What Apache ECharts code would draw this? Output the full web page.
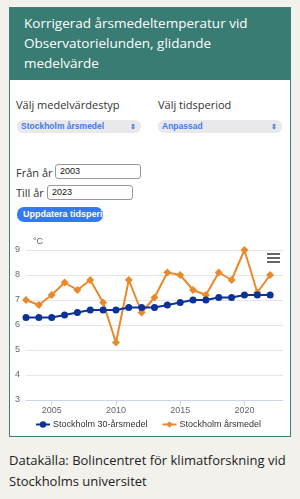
<!DOCTYPE html>
<html>
<head>
<meta charset="utf-8">
<script src="https://cdn.jsdelivr.net/npm/echarts@6/dist/echarts.min.js"></script>
<style>
  html, body { margin: 0; padding: 0; }
  body { width: 300px; height: 499px; background: #f3f1ec; position: relative; overflow: hidden; font-family: "Open Sans", sans-serif; }
  .card { position: absolute; left: 9px; top: 7px; width: 280px; height: 428px; background: #fff; border: 1px solid #3d7f76; }
  .head { position: absolute; left: 0; top: 0; width: 280px; height: 72px; background: #397c74; color: #fff; font-size: 13.5px; line-height: 20px; padding: 5px 40px 0 14px; box-sizing: border-box; }
  .lbl { position: absolute; font-size: 11px; color: #333; white-space: nowrap; }
  .sel { position: absolute; height: 13px; background: #e9e9ec; border-radius: 6px; font-family: "Liberation Sans", sans-serif; font-size: 8.5px; font-weight: bold; color: #3f7be8; line-height: 13px; padding-left: 4px; box-sizing: border-box; }
  .sel span { position: absolute; right: 5px; top: 0; font-size: 7px; }
  .inp { position: absolute; height: 15px; border: 1px solid #999; border-radius: 3px; box-sizing: border-box; font-family: "Liberation Sans", sans-serif; font-size: 9px; line-height: 13px; padding-left: 4px; color: #111; }
  .btn { position: absolute; left: 7px; top: 199px; width: 86px; height: 15px; background: #3478f6; border-radius: 7px; color: #fff; font-family: "Liberation Sans", sans-serif; font-weight: bold; font-size: 9px; line-height: 15px; padding-left: 6px; box-sizing: border-box; overflow: hidden; white-space: nowrap; }
  #chart { position: absolute; left: 1px; top: 219px; width: 280px; height: 209px; }
  .foot { position: absolute; left: 9px; top: 450px; font-size: 13px; line-height: 21px; color: #222; }
</style>
</head>
<body>
<div class="card">
  <div class="head">Korrigerad årsmedeltemperatur vid Observatorielunden, glidande medelvärde</div>
  <div class="lbl" style="left:6px;top:89px">Välj medelvärdestyp</div>
  <div class="lbl" style="left:148px;top:89px">Välj tidsperiod</div>
  <div class="sel" style="left:7px;top:112px;width:124px">Stockholm årsmedel<span>&#8661;</span></div>
  <div class="sel" style="left:148px;top:112px;width:124px">Anpassad<span>&#8661;</span></div>
  <div class="lbl" style="left:6px;top:157px">Från år</div>
  <div class="inp" style="left:45px;top:156px;width:86px">2003</div>
  <div class="lbl" style="left:6px;top:177px">Till år</div>
  <div class="inp" style="left:37px;top:177px;width:86px">2023</div>
  <div class="btn">Uppdatera tidsperiod</div>
  <div id="chart"></div>
</div>
<div class="foot">Datakälla: Bolincentret för klimatforskning vid<br>Stockholms universitet</div>

<script>
const years = [2003, 2004, 2005, 2006, 2007, 2008, 2009, 2010, 2011, 2012,
  2013, 2014, 2015, 2016, 2017, 2018, 2019, 2020, 2021, 2022]
const mean30 = [6.3, 6.3, 6.3, 6.4, 6.5, 6.6, 6.6, 6.6, 6.7, 6.7,
  6.7, 6.8, 6.9, 7.0, 7.0, 7.1, 7.1, 7.2, 7.2, 7.2]
const annual = [7.0, 6.8, 7.2, 7.7, 7.4, 7.8, 6.9, 5.3, 7.8, 6.5,
  7.1, 8.1, 8.0, 7.4, 7.2, 8.1, 7.8, 9.0, 7.3, 8.0]
const xTicks = [2005, 2010, 2015, 2020]
const seriesNames = ['Stockholm 30-årsmedel', 'Stockholm årsmedel']

const chart = echarts.init(document.getElementById('chart'))
const font = '"Liberation Sans", Arial, sans-serif'

chart.setOption({
  animation: false,
  textStyle: { fontFamily: font },
  grid: { left: 15, right: 8, top: 23, bottom: 36 },
  legend: {
    data: seriesNames,
    left: 19,
    top: 188,
    itemWidth: 14,
    itemHeight: 8,
    itemGap: 14,
    textStyle: { fontSize: 9, color: '#333', fontFamily: font, padding: [0, 0, 0, -2] }
  },
  xAxis: {
    type: 'value',
    min: 2003,
    max: 2023,
    axisLine: { lineStyle: { color: '#ccd6eb' } },
    axisTick: { show: true, length: 5, customValues: xTicks, lineStyle: { color: '#ccd6eb' } },
    axisLabel: { customValues: xTicks, formatter: v => String(v), color: '#666', fontSize: 9, margin: 6 },
    splitLine: { show: false }
  },
  yAxis: {
    type: 'value',
    min: 3,
    max: 9,
    interval: 1,
    axisLine: { show: false },
    axisTick: { show: false },
    axisLabel: { color: '#666', fontSize: 9, margin: 6 },
    splitLine: { lineStyle: { color: '#e6e6e6' } }
  },
  graphic: [
    { type: 'text', left: 22, top: 10, style: { text: '°C', fill: '#666', font: '9px ' + font } },
    { type: 'group', left: 256, top: 26, children: [
      { type: 'rect', shape: { x: 0, y: 0, width: 13, height: 2 }, style: { fill: '#666' } },
      { type: 'rect', shape: { x: 0, y: 4, width: 13, height: 2 }, style: { fill: '#666' } },
      { type: 'rect', shape: { x: 0, y: 8, width: 13, height: 2 }, style: { fill: '#666' } }
    ] }
  ],
  series: [
    {
      name: seriesNames[0],
      type: 'line',
      data: years.map((y, i) => [y, mean30[i]]),
      color: '#0d3296',
      symbol: 'circle',
      symbolSize: 7,
      lineStyle: { width: 2 },
      z: 3
    },
    {
      name: seriesNames[1],
      type: 'line',
      data: years.map((y, i) => [y, annual[i]]),
      color: '#e8892b',
      symbol: 'diamond',
      symbolSize: 8,
      lineStyle: { width: 2 },
      z: 2
    }
  ]
})
</script>
</body>
</html>
